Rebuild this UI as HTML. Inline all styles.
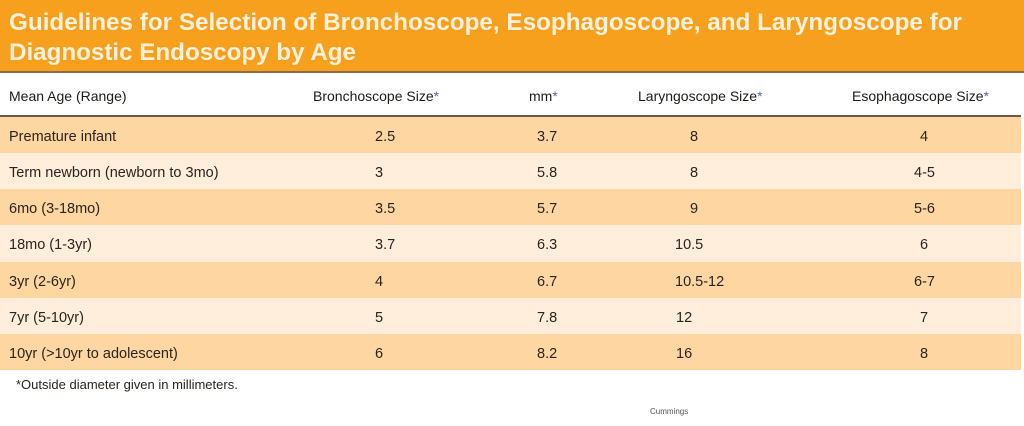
<!DOCTYPE html>
<html><head><meta charset="utf-8"><style>
html,body{margin:0;padding:0;background:#fff;}
svg{display:block}
text{font-family:"Liberation Sans",sans-serif;}
.c{font-size:14.5px;fill:#2a2420}
.h{font-size:14px;fill:#1e1a18}
.a{fill:#5a63a8}
</style></head><body>
<svg width="1024" height="426" viewBox="0 0 1024 426">
<rect x="0" y="0" width="1024" height="426" fill="#fff"/>
<rect x="0" y="0" width="1024" height="72" fill="#f6a01e"/>
<rect x="0" y="71" width="1024" height="2" fill="#8a6a4a"/>
<text x="9" y="30" font-size="24" font-weight="bold" fill="#fdf1dc" textLength="953" lengthAdjust="spacingAndGlyphs">Guidelines for Selection of Bronchoscope, Esophagoscope, and Laryngoscope for</text>
<text x="9" y="60" font-size="24" font-weight="bold" fill="#fdf1dc" textLength="347" lengthAdjust="spacingAndGlyphs">Diagnostic Endoscopy by Age</text>
<rect x="0" y="115" width="1021" height="2" fill="#6a5a50"/>
<text class="h" x="9" y="101">Mean Age (Range)</text>
<text class="h" x="313" y="101">Bronchoscope Size<tspan class="a">*</tspan></text>
<text class="h" x="529" y="101">mm<tspan class="a">*</tspan></text>
<text class="h" x="638" y="101">Laryngoscope Size<tspan class="a">*</tspan></text>
<text class="h" x="852" y="101">Esophagoscope Size<tspan class="a">*</tspan></text>
<rect x="0" y="117" width="1021" height="36" fill="#fdd6a2"/>
<rect x="0" y="153" width="1021" height="36" fill="#feeedb"/>
<rect x="0" y="189" width="1021" height="36" fill="#fdd6a2"/>
<rect x="0" y="225" width="1021" height="37" fill="#feeedb"/>
<rect x="0" y="262" width="1021" height="36" fill="#fdd6a2"/>
<rect x="0" y="298" width="1021" height="36" fill="#feeedb"/>
<rect x="0" y="334" width="1021" height="36" fill="#fdd6a2"/>
<g class="c">
<text x="9" y="141">Premature infant</text>
<text x="9" y="177">Term newborn (newborn to 3mo)</text>
<text x="9" y="213">6mo (3-18mo)</text>
<text x="9" y="249">18mo (1-3yr)</text>
<text x="9" y="286">3yr (2-6yr)</text>
<text x="9" y="322">7yr (5-10yr)</text>
<text x="9" y="358">10yr (&gt;10yr to adolescent)</text>

<text x="375" y="141">2.5</text><text x="375" y="177">3</text><text x="375" y="213">3.5</text><text x="375" y="249">3.7</text><text x="375" y="286">4</text><text x="375" y="322">5</text><text x="375" y="358">6</text>
<text x="537" y="141">3.7</text><text x="537" y="177">5.8</text><text x="537" y="213">5.7</text><text x="537" y="249">6.3</text><text x="537" y="286">6.7</text><text x="537" y="322">7.8</text><text x="537" y="358">8.2</text>
<text x="690" y="141">8</text><text x="690" y="177">8</text><text x="690" y="213">9</text><text x="675" y="249">10.5</text><text x="675" y="286">10.5-12</text><text x="676" y="322">12</text><text x="676" y="358">16</text>
<text x="920" y="141">4</text><text x="914" y="177">4-5</text><text x="914" y="213">5-6</text><text x="920" y="249">6</text><text x="914" y="286">6-7</text><text x="920" y="322">7</text><text x="920" y="358">8</text>
</g>
<text x="16" y="389" font-size="13" fill="#2a2420">*Outside diameter given in millimeters.</text>
<text x="650" y="414" font-size="8" fill="#555">Cummings</text>
</svg>
</body></html>
